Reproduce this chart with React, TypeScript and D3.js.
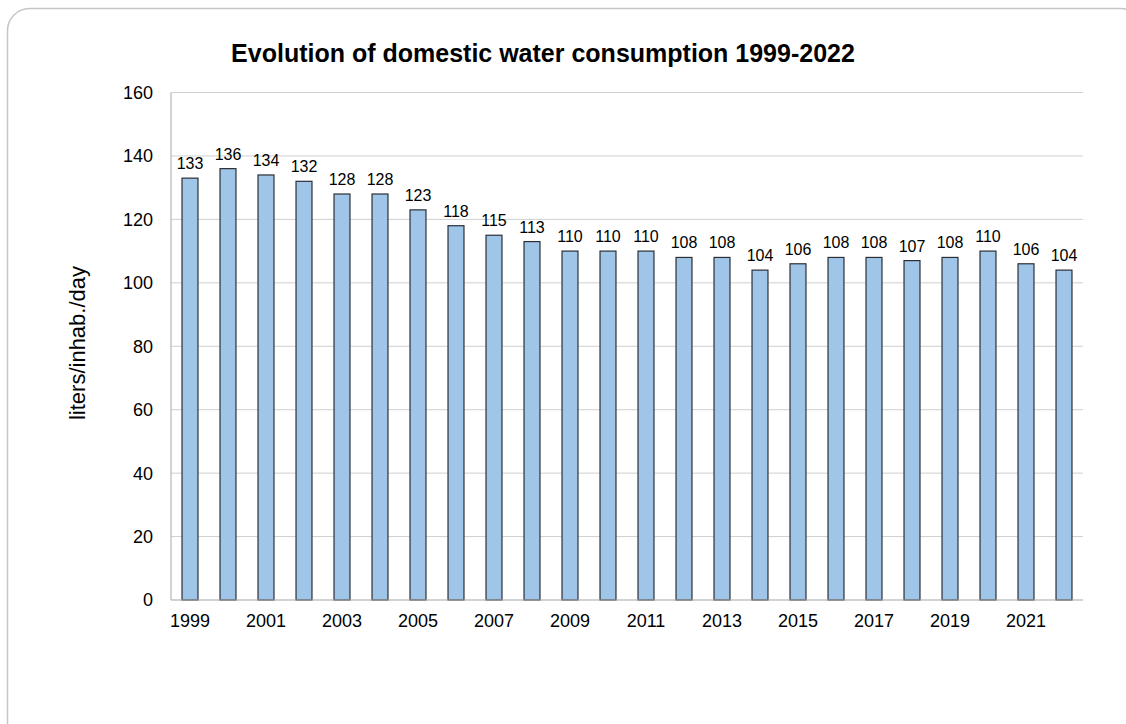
import React from "react";
import * as d3 from "d3";

const years: string[] = [
  "1999", "2000", "2001", "2002", "2003", "2004", "2005", "2006",
  "2007", "2008", "2009", "2010", "2011", "2012", "2013", "2014",
  "2015", "2016", "2017", "2018", "2019", "2020", "2021", "2022",
];

const consumption: number[] = [
  133, 136, 134, 132, 128, 128, 123, 118, 115, 113, 110, 110,
  110, 108, 108, 104, 106, 108, 108, 107, 108, 110, 106, 104,
];

const yTicks: number[] = [0, 20, 40, 60, 80, 100, 120, 140, 160];

const title = "Evolution of domestic water consumption 1999-2022";
const yTitle = "liters/inhab./day";

const W = 1126;
const H = 724;
const plot = { left: 171, right: 1083, top: 92.5, bottom: 600 };
const font = "'Liberation Sans', Arial, sans-serif";

export default function App() {
  const x = d3
    .scaleBand<string>()
    .domain(years)
    .range([plot.left, plot.right])
    .paddingInner(0.58)
    .paddingOuter(0.29);
  const y = d3.scaleLinear().domain([0, 160]).range([plot.bottom, plot.top]);
  const band = (plot.right - plot.left) / years.length;

  return (
    <svg
      width={W}
      height={H}
      style={{ position: "absolute", left: 0, top: 0, background: "#fff" }}
      fontFamily={font}
    >
      <rect
        x={7.5}
        y={8.5}
        width={1135}
        height={735}
        rx={22}
        fill="#fff"
        stroke="#c6c6c6"
        strokeWidth={1.5}
      />
      <text
        x={543}
        y={62}
        textAnchor="middle"
        fontSize={25}
        fontWeight="bold"
        fill="#000"
      >
        {title}
      </text>

      {yTicks.map((t) => (
        <g key={t}>
          {t > 0 && (
            <line
              x1={plot.left}
              x2={plot.right}
              y1={y(t)}
              y2={y(t)}
              stroke="#d0d0d0"
              strokeWidth={1}
            />
          )}
          <text
            x={153}
            y={y(t)}
            dy="0.36em"
            textAnchor="end"
            fontSize={18}
            fill="#000"
          >
            {t}
          </text>
        </g>
      ))}

      <line
        x1={plot.left}
        x2={plot.left}
        y1={plot.top}
        y2={plot.bottom}
        stroke="#a6a6a6"
        strokeWidth={1}
      />

      {years.map((yr, i) => {
        const v = consumption[i];
        const bx = x(yr) as number;
        const bw = x.bandwidth();
        return (
          <g key={yr}>
            <rect
              x={bx}
              y={y(v)}
              width={bw}
              height={y(0) - y(v)}
              fill="#9fc5e8"
              stroke="#2a2f36"
              strokeWidth={1.2}
            />
            <text
              x={bx + bw / 2}
              y={y(v) - 9}
              textAnchor="middle"
              fontSize={16}
              fill="#000"
            >
              {v}
            </text>
          </g>
        );
      })}

      <line
        x1={plot.left}
        x2={plot.right}
        y1={plot.bottom}
        y2={plot.bottom}
        stroke="#a6a6a6"
        strokeWidth={1.2}
      />

      {years.map((yr, i) =>
        i % 2 === 0 ? (
          <text
            key={yr}
            x={plot.left + band * i + band / 2}
            y={627}
            textAnchor="middle"
            fontSize={18}
            fill="#000"
          >
            {yr}
          </text>
        ) : null
      )}

      <text
        transform={`translate(85, 343) rotate(-90)`}
        textAnchor="middle"
        fontSize={22}
        fill="#000"
      >
        {yTitle}
      </text>
    </svg>
  );
}
